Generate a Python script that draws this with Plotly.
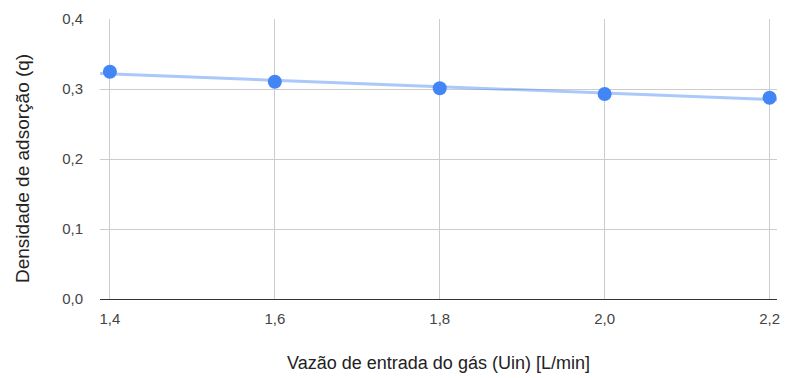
import numpy as np
import plotly.graph_objects as go

# Gas inlet flow rate [L/min] and adsorption density
vazao = [1.4, 1.6, 1.8, 2.0, 2.2]
densidade = [0.3247, 0.3104, 0.3010, 0.2929, 0.2876]
x_ticks = [1.4, 1.6, 1.8, 2.0, 2.2]
y_ticks = [0.0, 0.1, 0.2, 0.3, 0.4]

x_range = [1.388, 2.209]

# Linear trendline fitted to the measured points
coef = np.polyfit(vazao, densidade, 1)
trend_x = np.array(x_range)
trend_y = np.polyval(coef, trend_x)

fig = go.Figure()
fig.add_trace(go.Scatter(
    x=trend_x, y=trend_y, mode="lines",
    line=dict(color="rgba(66,133,244,0.45)", width=3),
    hoverinfo="skip", showlegend=False,
))
fig.add_trace(go.Scatter(
    x=vazao, y=densidade, mode="markers",
    marker=dict(color="#4285F4", size=14),
    showlegend=False,
))

fig.update_layout(
    width=788, height=378,
    margin=dict(l=100, r=8, t=19, b=79),
    paper_bgcolor="white", plot_bgcolor="white",
    separators=",.",
    font=dict(family="Arial, 'Liberation Sans', sans-serif", size=15, color="#444444"),
    xaxis=dict(
        range=x_range, tickvals=x_ticks, tickformat=".1f",
        showgrid=True, gridcolor="#cccccc", gridwidth=1,
        zeroline=False, showline=True, linecolor="#333333", linewidth=1,
        ticks="", ticklabelstandoff=6,
        title=dict(text="Vazão de entrada do gás (Uin) [L/min]",
                   font=dict(size=18, color="#222222"), standoff=30),
    ),
    yaxis=dict(
        range=[0, 0.4], tickvals=y_ticks, tickformat=".1f",
        showgrid=True, gridcolor="#cccccc", gridwidth=1,
        zeroline=False, showline=False, ticks="", ticklabelstandoff=16,
    ),
    annotations=[dict(
        text="Densidade de adsorção (q)", textangle=-90,
        xref="paper", yref="paper", x=0, y=0.5,
        xanchor="center", yanchor="middle",
        xshift=-78, yshift=-10, showarrow=False,
        font=dict(size=19, color="#222222"),
    )],
)

fig.write_html("out.html")
